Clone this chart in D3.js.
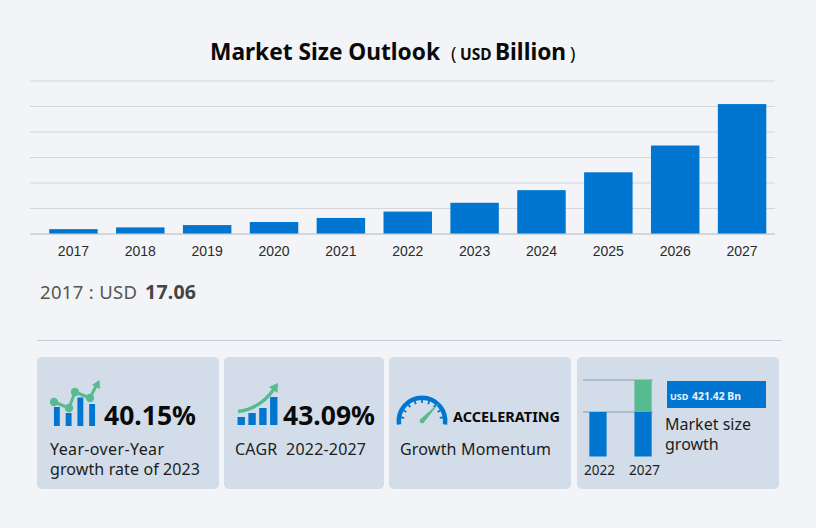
<!DOCTYPE html>
<html><head><meta charset="utf-8">
<script src="https://cdn.jsdelivr.net/npm/d3@7"></script>
<style>
html,body{margin:0;padding:0;background:#f3f4f7}
svg{display:block}
text{font-family:"Noto Sans",sans-serif}
</style></head><body><svg id="c" width="816" height="528"></svg>
<script>
const years=["2017","2018","2019","2020","2021","2022","2023","2024","2025","2026","2027"];
const marketSize=[17.06,24,33,45,61,86,120.5,170,240,345,507.5];
const gridTicks=[0,100,200,300,400,500,600];
const miniYears=["2022","2027"];
const miniBase=[86,86];
const miniGrowth=[0,421.42];
const yoyBars=[19,13,28.5,22];
const cagrBars=[8,12,17,28];
const BLUE="#0176d0",GREEN="#57bb92",CARD="#d3dde9",INK="#0a0a0a",SOFT="#1c1c1c";

const svg=d3.select("#c");
svg.append("rect").attr("width",816).attr("height",528).attr("fill","#f3f4f7");
const label=(t,px,py,s=16,w=400,f=INK,len=null)=>{
  const n=svg.append("text").attr("x",px).attr("y",py).attr("font-size",s).attr("font-weight",w).attr("fill",f).text(t);
  if(len) n.attr("textLength",len).attr("lengthAdjust","spacing");
  return n;
};

// title
label("Market Size Outlook",210,60,22.7,700,INK,230);
label("(",451,60,18,400);
label("USD",460,60,15.5,700);
label("Billion",495,60,22.7,700);
label(")",570,60,18,400);

// main chart
const x=d3.scaleBand().domain(years).range([40,775.5]).paddingInner(.275).paddingOuter(.1375);
const y=d3.scaleLinear().domain([0,600]).range([233.5,80.5]);
const grid=svg.append("g").attr("transform","translate(30,0)")
  .call(d3.axisLeft(y).tickValues(gridTicks).tickSize(-745).tickFormat(""));
grid.select(".domain").remove();
grid.selectAll("line").attr("stroke",d=>d===0?"#b4b7bd":"#d6d6da").attr("stroke-width",1.2);
svg.append("g").selectAll("rect").data(years).join("rect")
  .attr("x",d=>x(d)).attr("width",x.bandwidth())
  .attr("y",(d,i)=>y(marketSize[i])).attr("height",(d,i)=>y(0)-y(marketSize[i]))
  .attr("fill",BLUE);
const xa=svg.append("g").attr("transform","translate(0,233.5)").call(d3.axisBottom(x).tickSize(0).tickPadding(13));
xa.select(".domain").remove();
xa.selectAll("text").attr("font-size",14).attr("fill","#2b2b2b").style("font-family","'Liberation Sans',Arial,sans-serif");

// current value
label("2017 : USD",40,299,18.5,400,"#555",97);
label("17.06",145,298.5,19.5,700,"#444",51);
svg.append("line").attr("x1",37).attr("x2",782).attr("y1",340.5).attr("y2",340.5).attr("stroke","#c6cbd9");

// cards
const cards=[[37,182],[224,160],[389,182],[577,202]];
svg.append("g").selectAll("rect").data(cards).join("rect")
  .attr("x",d=>d[0]).attr("y",357).attr("width",d=>d[1]).attr("height",132).attr("rx",5).attr("fill",CARD);

// card 1
label("40.15%",104,425,26.5,700);
label("Year-over-Year",50,455,16,400,SOFT,114);
label("growth rate of 2023",50,475,16,400,SOFT,150);
const yoyX=d3.scaleBand().domain(d3.range(4)).range([51,98]).paddingInner(.5).paddingOuter(.25);
svg.append("g").selectAll("rect").data(yoyBars).join("rect")
  .attr("x",(d,i)=>yoyX(i)).attr("width",yoyX.bandwidth()).attr("y",d=>426-d).attr("height",d=>d).attr("fill",BLUE);
const yoyPts=[[54,402],[69,408],[75,392],[90,398],[96,386]];
svg.append("path").attr("d",d3.line()(yoyPts)).attr("fill","none").attr("stroke",GREEN).attr("stroke-width",3);
svg.append("g").selectAll("circle").data(yoyPts.slice(0,4)).join("circle")
  .attr("cx",d=>d[0]).attr("cy",d=>d[1]).attr("r",4.2).attr("fill",GREEN);
svg.append("path").attr("d","M99.5,380 L100,389 L92,385 Z").attr("fill",GREEN);

// card 2
label("43.09%",283,425,26.5,700);
label("CAGR  2022-2027",235,455,16,400,SOFT,131).style("white-space","pre");
const cagrX=d3.scaleBand().domain(d3.range(4)).range([237,278]).paddingInner(.32).paddingOuter(.05);
svg.append("g").selectAll("rect").data(cagrBars).join("rect")
  .attr("x",(d,i)=>cagrX(i)).attr("width",cagrX.bandwidth()).attr("y",d=>425-d).attr("height",d=>d).attr("fill",BLUE);
svg.append("path").attr("d","M238,411.5 Q260,409 274,389").attr("fill","none").attr("stroke",GREEN).attr("stroke-width",3.4);
svg.append("path").attr("d","M278,383 L277.5,393 L269,387 Z").attr("fill",GREEN);

// card 3
const arc=d3.arc().innerRadius(21).outerRadius(25.5).startAngle(-1.72).endAngle(1.72).cornerRadius(.5);
const gauge=svg.append("g").attr("transform","translate(422,421)");
gauge.append("path").attr("d",arc()).attr("fill",BLUE);
gauge.selectAll("line").data(d3.range(-1.4,1.41,.35)).join("line")
  .attr("x1",d=>Math.sin(d)*22).attr("y1",d=>-Math.cos(d)*22)
  .attr("x2",d=>Math.sin(d)*18).attr("y2",d=>-Math.cos(d)*18)
  .attr("stroke",BLUE).attr("stroke-width",1.8);
svg.append("path").attr("d","M420,419.5 L440,402 L423.5,423 Q419,424.5 420,419.5 Z").attr("fill",GREEN);
label("ACCELERATING",453,422,14.5,700,INK,107).attr("lengthAdjust","spacingAndGlyphs");
label("Growth Momentum",400,455,16,400,SOFT,151);

// card 4
const mx=d3.scaleBand().domain(miniYears).range([566.8,674.2]).paddingInner(.618).paddingOuter(.5).align(.5);
const my=d3.scaleLinear().domain([0,86,507.42]).range([456.5,412,380]);
svg.append("g").selectAll("line").data([miniBase[0],miniBase[0]+miniGrowth[1]]).join("line")
  .attr("x1",583).attr("x2",653).attr("y1",d=>my(d)).attr("y2",d=>my(d)).attr("stroke","#8c9aa8").attr("stroke-width",1);
svg.append("g").selectAll("rect").data(miniYears).join("rect")
  .attr("x",d=>mx(d)).attr("width",mx.bandwidth()).attr("y",(d,i)=>my(miniBase[i])).attr("height",(d,i)=>my(0)-my(miniBase[i])).attr("fill",BLUE);
svg.append("rect").attr("x",mx("2027")).attr("width",mx.bandwidth())
  .attr("y",my(miniBase[1]+miniGrowth[1])).attr("height",my(miniBase[1])-my(miniBase[1]+miniGrowth[1])).attr("fill",GREEN);
svg.append("g").selectAll("text").data(miniYears).join("text")
  .attr("x",d=>mx(d)+mx.bandwidth()/2+1.5).attr("y",475).attr("text-anchor","middle").attr("font-size",13.5).attr("fill",SOFT).text(d=>d);
svg.append("rect").attr("x",667).attr("y",381).attr("width",99).attr("height",27).attr("fill",BLUE);
label("USD",670,400,9,700,"#e8f1fa");
label("421.42 Bn",692,400,11,700,"#e8f1fa",49).attr("lengthAdjust","spacingAndGlyphs");
label("Market size",665,430,16,400,SOFT,86);
label("growth",665,450,16,400,SOFT);
</script></body></html>
